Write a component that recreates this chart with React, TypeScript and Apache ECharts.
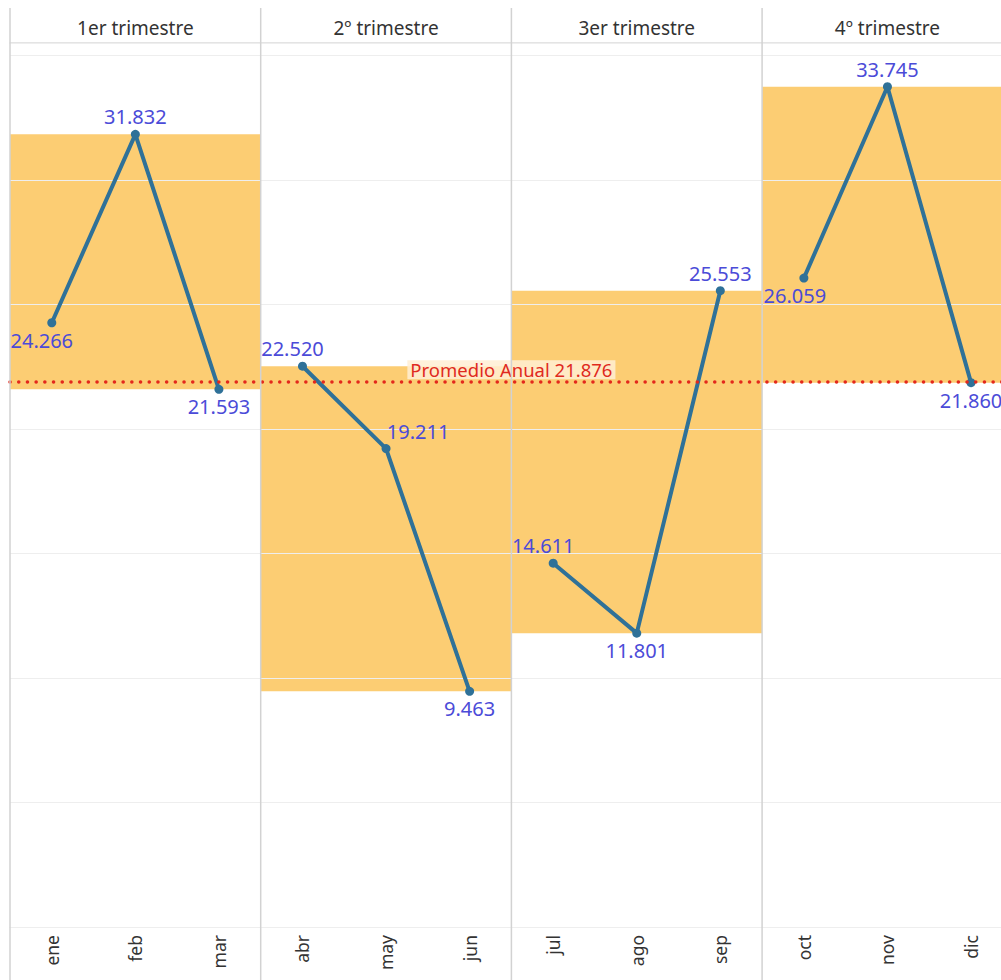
import React, { useEffect, useRef } from "react";
import * as echarts from "echarts";

const QUARTERS = ["1er trimestre", "2º trimestre", "3er trimestre", "4º trimestre"];
const MONTHS = ["ene", "feb", "mar", "abr", "may", "jun", "jul", "ago", "sep", "oct", "nov", "dic"];
const VALUES = [24.266, 31.832, 21.593, 22.52, 19.211, 9.463, 14.611, 11.801, 25.553, 26.059, 33.745, 21.86];
const Y_TICK_INTERVAL = 5;
const Y_MAX = 35.5;

// label placement per month (style config)
const LABEL_POS = ["bottom", "top", "bottom", "top", "top", "bottom", "top", "bottom", "top", "bottom", "top", "bottom"];
const LABEL_DX = [-10, 0, 0, -10, 32, 0, -10, 0, 0, -9, 0, 0];

const FONT = "'Noto Sans', sans-serif";
const LEFT = 10;
const PANEL_W = 250.7;
const TOP = 43;
const BOTTOM = 53;
const CANVAS_W = 1020;

export default function App() {
  const ref = useRef<HTMLDivElement>(null);
  useEffect(() => {
    if (!ref.current) return;
    const chart = echarts.init(ref.current, undefined, { renderer: "svg" });
    const avg = VALUES.reduce((a, b) => a + b, 0) / VALUES.length;

    const grids: any[] = [];
    const xAxes: any[] = [];
    const yAxes: any[] = [];
    const series: any[] = [];
    const graphics: any[] = [];

    QUARTERS.forEach((q, i) => {
      const months = MONTHS.slice(i * 3, i * 3 + 3);
      const vals = VALUES.slice(i * 3, i * 3 + 3);
      grids.push({ left: LEFT + i * PANEL_W, width: PANEL_W, top: TOP, bottom: BOTTOM });
      xAxes.push({
        type: "category",
        gridIndex: i,
        data: months,
        position: "bottom",
        axisLine: { show: true, lineStyle: { color: "#dcdcdc", width: 1 } },
        axisTick: { show: false },
        axisLabel: { rotate: 90, fontSize: 17.5, color: "#333", margin: 8, fontFamily: FONT },
      });
      xAxes.push({
        type: "category",
        gridIndex: i,
        data: [q],
        position: "top",
        axisLine: { show: true, lineStyle: { color: "#dcdcdc", width: 1.5 } },
        axisTick: { show: false },
        axisLabel: { fontSize: 19, color: "#333", margin: 6, fontFamily: FONT },
      });
      yAxes.push({
        type: "value",
        gridIndex: i,
        min: 0,
        max: Y_MAX,
        interval: Y_TICK_INTERVAL,
        z: 1.5,
        axisLine: { show: false },
        axisTick: { show: false },
        axisLabel: { show: false },
        splitLine: { show: true, lineStyle: { color: "#eeeeee", width: 1 } },
      });
      const mn = Math.min(...vals);
      const mx = Math.max(...vals);
      series.push({
        type: "line",
        xAxisIndex: i * 2,
        yAxisIndex: i,
        data: vals,
        symbol: "none",
        lineStyle: { opacity: 0 },
        silent: true,
        z: 1,
        markArea: {
          silent: true,
          z: 1,
          itemStyle: { color: "#fccd73" },
          data: [[{ yAxis: mn }, { yAxis: mx }]],
        },
      });
      series.push({
        type: "line",
        xAxisIndex: i * 2,
        yAxisIndex: i,
        z: 3,
        data: vals.map((v, k) => ({
          value: v,
          label: {
            position: LABEL_POS[i * 3 + k],
            offset: [LABEL_DX[i * 3 + k], 0],
          },
        })),
        symbol: "circle",
        symbolSize: 9,
        itemStyle: { color: "#2f7198" },
        lineStyle: { color: "#2f7198", width: 4 },
        label: {
          show: true,
          distance: 3,
          fontSize: 20,
          color: "#4b4bd8",
          fontFamily: FONT,
          formatter: (p: any) => Number(p.value).toFixed(3),
        },
      });
    });

    // overlay grid for the annual average line
    grids.push({ left: LEFT, width: PANEL_W * 4, top: TOP, bottom: BOTTOM });
    xAxes.push({ type: "value", gridIndex: 4, min: 0, max: 1, show: false });
    yAxes.push({ type: "value", gridIndex: 4, min: 0, max: Y_MAX, show: false });
    series.push({
      type: "line",
      xAxisIndex: xAxes.length - 1,
      yAxisIndex: yAxes.length - 1,
      data: [],
      z: 5,
      markLine: {
        silent: true,
        symbol: ["none", "none"],
        lineStyle: { color: "#e3281c", width: 3.5, type: [0.1, 8.6], cap: "round" },
        label: {
          show: true,
          position: "insideMiddleTop",
          formatter: `Promedio Anual ${avg.toFixed(3)}`,
          color: "#e02a1e",
          fontSize: 18.5,
          fontFamily: FONT,
          backgroundColor: "rgba(255,238,212,0.85)",
          padding: [0, 3],
          distance: 3,
        },
        data: [{ yAxis: avg }],
      },
    });

    for (let i = 0; i <= 4; i++) {
      graphics.push({
        type: "line",
        shape: { x1: LEFT + i * PANEL_W, y1: 8, x2: LEFT + i * PANEL_W, y2: 980 },
        style: { stroke: "#d2d2d2", lineWidth: 1.5 },
        silent: true,
        z: 10,
      });
    }

    chart.setOption({
      animation: false,
      backgroundColor: "#ffffff",
      grid: grids,
      xAxis: xAxes,
      yAxis: yAxes,
      series,
      graphic: graphics,
    });
    return () => chart.dispose();
  }, []);
  return (
    <div style={{ position: "absolute", left: 0, top: 0, width: 1001, height: 980, overflow: "hidden" }}>
      <div ref={ref} style={{ width: CANVAS_W, height: 980 }} />
    </div>
  );
}
